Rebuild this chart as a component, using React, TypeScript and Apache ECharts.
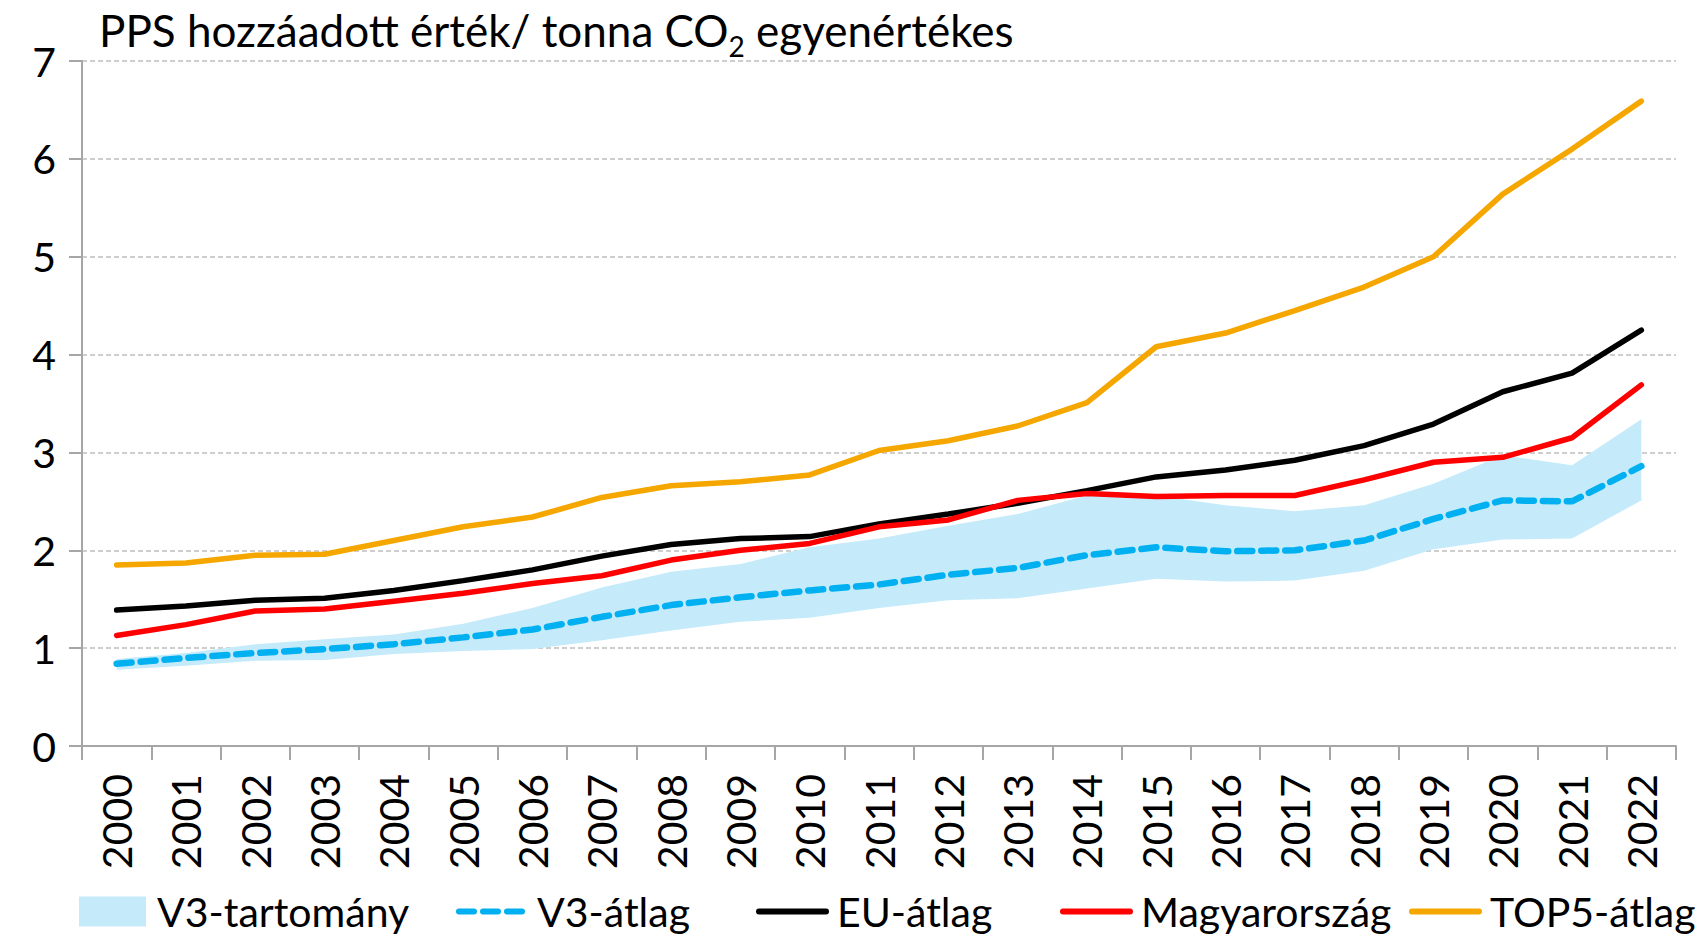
import React, { useEffect, useRef } from "react";
import * as echarts from "echarts";

const years = [
  "2000", "2001", "2002", "2003", "2004", "2005", "2006", "2007", "2008", "2009", "2010", "2011",
  "2012", "2013", "2014", "2015", "2016", "2017", "2018", "2019", "2020", "2021", "2022",
];

const v3Low = [0.78, 0.82, 0.87, 0.88, 0.94, 0.97, 0.99, 1.08, 1.18, 1.27, 1.31, 1.41, 1.49, 1.51, 1.61, 1.71, 1.68, 1.69, 1.79, 2.01, 2.11, 2.12, 2.51];
const v3High = [0.89, 0.95, 1.04, 1.09, 1.14, 1.25, 1.41, 1.62, 1.78, 1.86, 2.03, 2.12, 2.25, 2.37, 2.56, 2.56, 2.46, 2.4, 2.46, 2.68, 2.97, 2.87, 3.34];
const v3Avg = [0.84, 0.9, 0.95, 0.99, 1.04, 1.11, 1.19, 1.32, 1.44, 1.52, 1.59, 1.65, 1.75, 1.82, 1.95, 2.03, 1.99, 2.0, 2.1, 2.32, 2.51, 2.5, 2.86];
const euAvg = [1.39, 1.43, 1.49, 1.51, 1.59, 1.69, 1.8, 1.94, 2.06, 2.12, 2.14, 2.27, 2.37, 2.48, 2.61, 2.75, 2.82, 2.92, 3.07, 3.29, 3.62, 3.81, 4.25];
const hungary = [1.13, 1.24, 1.38, 1.4, 1.48, 1.56, 1.66, 1.74, 1.9, 2.0, 2.07, 2.24, 2.31, 2.51, 2.58, 2.55, 2.56, 2.56, 2.72, 2.9, 2.95, 3.15, 3.69];
const top5 = [1.85, 1.87, 1.95, 1.96, 2.1, 2.24, 2.34, 2.54, 2.66, 2.7, 2.77, 3.02, 3.12, 3.27, 3.51, 4.08, 4.22, 4.45, 4.69, 5.0, 5.64, 6.1, 6.59];

const seriesNames = ["V3-tartomány", "V3-átlag", "EU-átlag", "Magyarország", "TOP5-átlag"];

const FONT = "Lato";

export default function App() {
  const ref = useRef<HTMLDivElement>(null);

  useEffect(() => {
    if (!ref.current) return;
    const chart = echarts.init(ref.current, null, { renderer: "svg" });
    const bandDiff = v3High.map((h, i) => +(h - v3Low[i]).toFixed(3));
    const legendLeft = [74, 451, 751, 1055, 1404];
    const bandColor = "#C5EBFB";

    chart.setOption({
      animation: false,
      backgroundColor: "#fff",
      title: {
        text: "{a|PPS hozzáadott érték/ tonna CO}{s|2}{a| egyenértékes}",
        left: 94,
        top: -5,
        textStyle: {
          fontWeight: "normal",
          rich: {
            a: { fontFamily: FONT, fontSize: 44, fontWeight: "normal", color: "#000", lineHeight: 60 },
            s: { fontFamily: FONT, fontSize: 28, fontWeight: "normal", color: "#000", lineHeight: 60, verticalAlign: "bottom" },
          },
        },
      },
      legend: seriesNames.map((n, i) => ({
        data:
          i === 0
            ? [{ name: n, icon: "rect", itemStyle: { color: bandColor } }]
            : [{ name: n, itemStyle: { opacity: 0 } }],
        left: legendLeft[i],
        top: 886,
        itemWidth: 67,
        itemHeight: 30,
        selectedMode: false,
        lineStyle: { width: 6, cap: "round" },
        textStyle: { fontFamily: FONT, fontSize: 41, color: "#000", padding: [0, 0, 0, 6] },
      })),
      grid: { left: 82, right: 30, top: 61, bottom: 193, containLabel: false },
      xAxis: {
        type: "category",
        data: years,
        boundaryGap: true,
        axisLine: { lineStyle: { color: "#A6A6A6", width: 2 } },
        axisTick: { show: true, interval: 0, length: 14, lineStyle: { color: "#A6A6A6", width: 2 } },
        axisLabel: { rotate: 90, interval: 0, margin: 28, fontFamily: FONT, fontSize: 41, color: "#000" },
        splitLine: { show: false },
      },
      yAxis: {
        type: "value",
        min: 0,
        max: 7,
        interval: 1,
        axisLine: { show: true, lineStyle: { color: "#A6A6A6", width: 2 } },
        axisTick: { show: true, length: 13, lineStyle: { color: "#A6A6A6", width: 2 } },
        axisLabel: { margin: 26, fontFamily: FONT, fontSize: 41, color: "#000" },
        splitLine: { show: true, lineStyle: { color: "#BFBFBF", type: [5, 3], width: 1.5 } },
      },
      series: [
        {
          name: "v3low",
          type: "line",
          stack: "band",
          data: v3Low,
          symbol: "none",
          lineStyle: { opacity: 0 },
          silent: true,
        },
        {
          name: seriesNames[0],
          type: "line",
          stack: "band",
          data: bandDiff,
          symbol: "none",
          lineStyle: { opacity: 0 },
          itemStyle: { color: bandColor },
          areaStyle: { color: bandColor, opacity: 1 },
          silent: true,
        },
        {
          name: seriesNames[1],
          type: "line",
          data: v3Avg,
          symbol: "none",
          itemStyle: { color: "#00B0F0" },
          lineStyle: { color: "#00B0F0", width: 6.5, type: [15, 9], cap: "round" },
        },
        {
          name: seriesNames[2],
          type: "line",
          data: euAvg,
          symbol: "none",
          itemStyle: { color: "#000000" },
          lineStyle: { color: "#000000", width: 5.5, cap: "round" },
        },
        {
          name: seriesNames[3],
          type: "line",
          data: hungary,
          symbol: "none",
          itemStyle: { color: "#FF0000" },
          lineStyle: { color: "#FF0000", width: 5.5, cap: "round" },
        },
        {
          name: seriesNames[4],
          type: "line",
          data: top5,
          symbol: "none",
          itemStyle: { color: "#F5A700" },
          lineStyle: { color: "#F5A700", width: 5.5, cap: "round" },
        },
      ],
    });
    return () => chart.dispose();
  }, []);

  return <div ref={ref} style={{ width: 1706, height: 939, marginLeft: -8, marginTop: -8 }} />;
}
